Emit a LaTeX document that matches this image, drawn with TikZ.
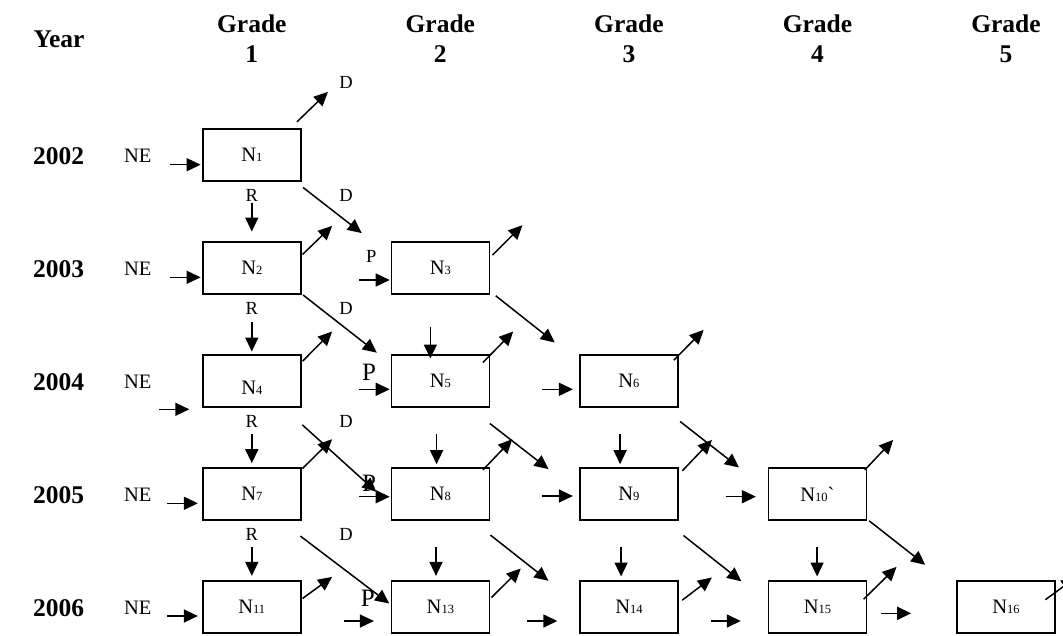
\documentclass[tikz,border=0pt]{standalone}
\usepackage{fontspec}
\setmainfont{Liberation Serif}
\usetikzlibrary{arrows.meta,calc}
\newcommand\Nsb[1]{N{\fontsize{12.5}{12.5}\selectfont #1}}
\begin{document}
\begin{tikzpicture}[x=1pt,y=-1pt,
  box/.style={draw,line width=1.6pt,minimum width=98pt,minimum height=52pt,inner sep=0pt,font=\fontsize{20.5}{20.5}\selectfont},
  arr/.style={line width=1.5pt,-{Triangle[length=14pt,width=13pt]}},
  hdr/.style={font=\bfseries\fontsize{25.5}{25.5}\selectfont,anchor=base,inner sep=0pt},
  lbl/.style={font=\fontsize{18.5}{18.5}\selectfont,anchor=base,inner sep=0pt},
  nel/.style={font=\fontsize{20.5}{20.5}\selectfont,anchor=base,inner sep=0pt},
  bigp/.style={font=\fontsize{25}{25}\selectfont,anchor=base,inner sep=0pt},
  ]
\useasboundingbox (0,0) rectangle (1063,635);
% headers
\node[hdr] (yr) at (59,47.3) {Year};
\foreach \i/\x in {1/251.8,2/440.35,3/628.9,4/817.45,5/1006}{
  \node[hdr] (gA\i) at (\x,32.3) {Grade};
  \node[hdr] (gB\i) at (\x,62) {\i};
}
\foreach \k/\yy in {0/2002,1/2003,2/2004,3/2005,4/2006}{
  \node[hdr] (y\yy) at (58.5,{164+113*\k}) {\yy};
  \node[nel] (ne\yy) at (137.7,{162.7+113*\k}) {NE};
}
\foreach \k in {0,1,2,3}{
  \node[lbl] (R\k) at (251.7,{201+113*\k}) {R};
  \node[lbl] (D\k) at (346,{201+113*\k}) {D};
}
\node[lbl] (Dtop) at (346,88.3) {D};
\node[lbl] (P2) at (371.2,262.7) {P};
\node[bigp] (P3) at (369,380) {P};
\node[bigp] (P4) at (369,491.7) {P};
\node[bigp] (P5) at (367.8,606) {P};
% boxes
\node[box] (N1) at (251.8,155.2) {\Nsb{1}};
\node[box] (N2) at (251.8,268.2) {\Nsb{2}};
\node[box] (N3) at (440.35,268.2) {\Nsb{3}};
\node[box] (N4) at (251.8,381.2) {\raisebox{-6pt}[14pt][0pt]{\Nsb{4}}};
\node[box] (N5) at (440.35,381.2) {\Nsb{5}};
\node[box] (N6) at (628.9,381.2) {\Nsb{6}};
\node[box] (N7) at (251.8,494.2) {\Nsb{7}};
\node[box] (N8) at (440.35,494.2) {\Nsb{8}};
\node[box] (N9) at (628.9,494.2) {\Nsb{9}};
\node[box] (N10) at (817.45,494.2) {\Nsb{10}\textasciigrave};
\node[box] (N11) at (251.8,607.2) {\Nsb{11}};
\node[box] (N13) at (440.35,607.2) {\Nsb{13}};
\node[box] (N14) at (628.9,607.2) {\Nsb{14}};
\node[box] (N15) at (817.45,607.2) {\Nsb{15}};
\node[box] (N16) at (1006,607.2) {\Nsb{16}};
% up-right arrows
\foreach \n/\ox/\oy/\dx/\dy in {N1/-4.7/-6.5/31/-30, N2/0.9/13.1/29.6/-28.6, N3/2.3/13.8/30/-30,
  N4/0.9/6.8/29.6/-29.7, N5/-7.2/8.1/30.3/-31, N6/-4.9/5.8/29.8/-30.3,
  N7/0.9/1.1/29.6/-29.3, N8/-7.2/2.5/29.3/-30.7, N9/3.5/3.5/29.7/-31, N10/-2.4/2.5/28.3/-30,
  N11/0.9/18.1/29.6/-21.6, N13/1.3/17.1/29.3/-29, N14/3.5/19.8/29.7/-22.7, N15/-3.6/18.8/32.9/-32.3,
  N16/-10.4/19.3/30/-22}{
  \draw[arr] ($(\n.north east)+(\ox,\oy)$) -- ++(\dx,\dy);
}
% down-right arrows
\foreach \n/\ox/\oy/\dx/\dy in {N1/1.5/5.5/58.6/45.6, N2/1.5/0/73.7/57.7, N3/5.6/0.8/59/46.7,
  N4/0.7/16.8/74/67, N5/-0.3/15.5/58.7/45.6, N6/1.4/13.5/58.9/46,
  N7/-1.2/15.1/88.8/67.4, N8/0.3/14.1/58/45.7, N9/4.8/14.5/57.8/45.8, N10/1.9/-0.2/56.1/44}{
  \draw[arr] ($(\n.south east)+(\ox,\oy)$) -- ++(\dx,\dy);
}
% down arrows
\draw[arr] ($(N1.south)+(0,20.5)$) -- ($(N2.north)+(0,-9.9)$);
\draw[arr] ($(N2.south)+(0,26.5)$) -- ($(N4.north)+(0,-2.9)$);
\draw[arr] ($(N4.south)+(0,25.5)$) -- ($(N7.north)+(0,-4.2)$);
\draw[arr] ($(N7.south)+(0,25.5)$) -- ($(N11.north)+(0,-4.5)$);
\draw[arr] ($(N5.north)+(-10,-27.9)$) -- ($(N5.north)+(-10,4.1)$);
\draw[arr] ($(N5.south)+(-3.75,26.1)$) -- ($(N8.north)+(-3.75,-3.2)$);
\draw[arr] ($(N8.south)+(-4.35,25.5)$) -- ($(N13.north)+(-4.35,-4.5)$);
\draw[arr] ($(N6.south)+(-8.8,26.1)$) -- ($(N9.north)+(-8.8,-3.2)$);
\draw[arr] ($(N9.south)+(-7.8,25.5)$) -- ($(N14.north)+(-7.8,-3.9)$);
\draw[arr] ($(N10.south)+(-0.35,25.5)$) -- ($(N15.north)+(-0.35,-3.9)$);
% horizontal in-arrows
\foreach \n/\sx/\ex/\oy in {N1/-31.7/-1.4/9.5, N2/-31.7/-1.4/9.1, N4/-42.7/-12.7/28.1,
  N7/-34.8/-4.1/9.1, N11/-34.8/-4.1/8.8, N3/-31.55/-0.85/11.8, N5/-31.55/-0.85/8.1,
  N8/-31.55/-0.85/2.5, N13/-46.95/-16.65/13.8, N6/-37/-6.2/8.1, N9/-37/-6.2/1.8,
  N14/-52.3/-21.8/13.8, N10/-41.75/-11.75/2.5, N15/-56.95/-26.85/13.8, N16/-75.2/-45/6.1}{
  \draw[arr] ($(\n.west)+(\sx,\oy)$) -- ($(\n.west)+(\ex,\oy)$);
}
\end{tikzpicture}
\end{document}
